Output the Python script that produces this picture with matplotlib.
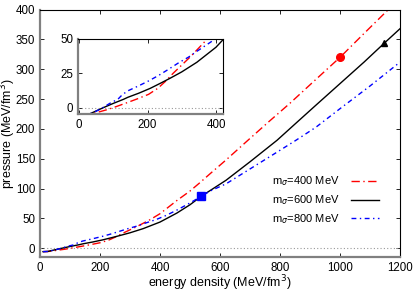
import matplotlib
matplotlib.use("Agg")
import matplotlib.pyplot as plt

plt.rcParams["font.family"] = ["Liberation Sans", "DejaVu Sans"]
plt.rcParams["font.size"] = 8

# m_sigma = 400 MeV
eps_400 = [10, 26, 50, 83, 110, 140, 170, 203, 230, 252, 275, 300, 325, 348, 367,
           400, 456, 500, 533, 567, 620, 693, 760, 833, 900, 1000, 1080, 1165]
p_400 = [-5.6, -5.4, -3.8, -1.5, 0.8, 3.5, 6.3, 9.6, 14, 19, 25, 31, 37, 43, 48,
         58, 80, 96, 110, 125, 148, 181, 211, 243, 274, 320, 360, 402]

# m_sigma = 600 MeV
eps_600 = [10, 26, 50, 70, 100, 130, 143, 175, 208, 240, 267, 300, 344, 400, 456,
           500, 537, 580, 620, 700, 790, 856, 920, 1000, 1080, 1148, 1200]
p_600 = [-5.6, -5.2, -2.5, -0.2, 3.0, 6.0, 7.5, 10.5, 14, 18, 21.5, 26, 33, 44, 59,
         73, 87, 101, 114, 145, 181, 211, 240, 276, 312, 344, 368]

# m_sigma = 800 MeV
eps_800 = [10, 26, 50, 70, 93, 113, 125, 141, 174, 204, 233, 262, 290, 320, 344,
           386, 420, 456, 500, 537, 567, 620, 700, 780, 853, 920, 1000, 1100, 1200]
p_800 = [-5.6, -5.3, -2.7, 0, 3.5, 5.9, 9, 12, 15.8, 19.5, 23.5, 28, 32.5, 36.8, 41,
         48, 55, 64, 76, 87, 96, 108, 133, 158, 181, 203, 234, 272, 312]

# special points
circ = (1000, 320)
tri = (1148, 344)
sq = (537, 87)

labels = [r"m$_\sigma$=400 MeV", r"m$_\sigma$=600 MeV", r"m$_\sigma$=800 MeV"]

red_dash = (0, (6, 2.5, 1, 2.5))
blue_dash = (0, (3.5, 2.5, 1, 2.5))


def style_axes(ax):
    ax.tick_params(direction="in", top=True, right=True, length=3, width=0.6,
                   pad=3.5, labelsize=8.3)
    for s in ["top", "right"]:
        ax.spines[s].set_linewidth(0.8)
    for s in ["left", "bottom"]:
        ax.spines[s].set_linewidth(1.6)
        ax.spines[s].set_color("#808080")


fig = plt.figure(figsize=(4.15, 2.91), dpi=100)
ax = fig.add_axes([0.0964, 0.118, 0.8675, 0.849])

ax.axhline(0, color="#999999", lw=0.8, ls=(0, (1, 2)))
ax.plot(eps_400, p_400, color="red", lw=1, ls=red_dash, label=labels[0])
ax.plot(eps_600, p_600, color="black", lw=1, ls="-", label=labels[1])
ax.plot(eps_800, p_800, color="blue", lw=1, ls=blue_dash, label=labels[2])
ax.plot(*circ, "o", color="red", ms=5.5)
ax.plot(*tri, "^", color="black", ms=4.5)
ax.plot(*sq, "s", color="blue", ms=5.5)

ax.set_xlim(0, 1200)
ax.set_ylim(-14, 400)
ax.set_xticks(range(0, 1201, 200))
ax.set_yticks(range(0, 401, 50))
ax.set_xlabel("energy density (MeV/fm$^3$)", fontsize=9)
ax.set_ylabel("pressure (MeV/fm$^3$)", fontsize=9)
ax.xaxis.set_label_coords(0.5, -0.066)
ax.yaxis.set_label_coords(-0.06, 0.5)
style_axes(ax)

ax.legend(loc="center left", bbox_to_anchor=(0.633, 0.228), frameon=False,
          markerfirst=False, handlelength=2.5, fontsize=8, labelspacing=0.45,
          handletextpad=1.0, borderaxespad=0)

# inset
ins = fig.add_axes([0.188, 0.607, 0.349, 0.259])
ins.axhline(0, color="#999999", lw=0.8, ls=(0, (1, 2)))
ins.plot(eps_400, p_400, color="red", lw=1, ls=red_dash)
ins.plot(eps_600, p_600, color="black", lw=1, ls="-")
ins.plot(eps_800, p_800, color="blue", lw=1, ls=blue_dash)
ins.set_xlim(-3, 420)
ins.set_ylim(-5, 50)
ins.set_xticks([0, 200, 400])
ins.set_yticks([0, 25, 50])
style_axes(ins)

fig.savefig("out.png", dpi=100)
